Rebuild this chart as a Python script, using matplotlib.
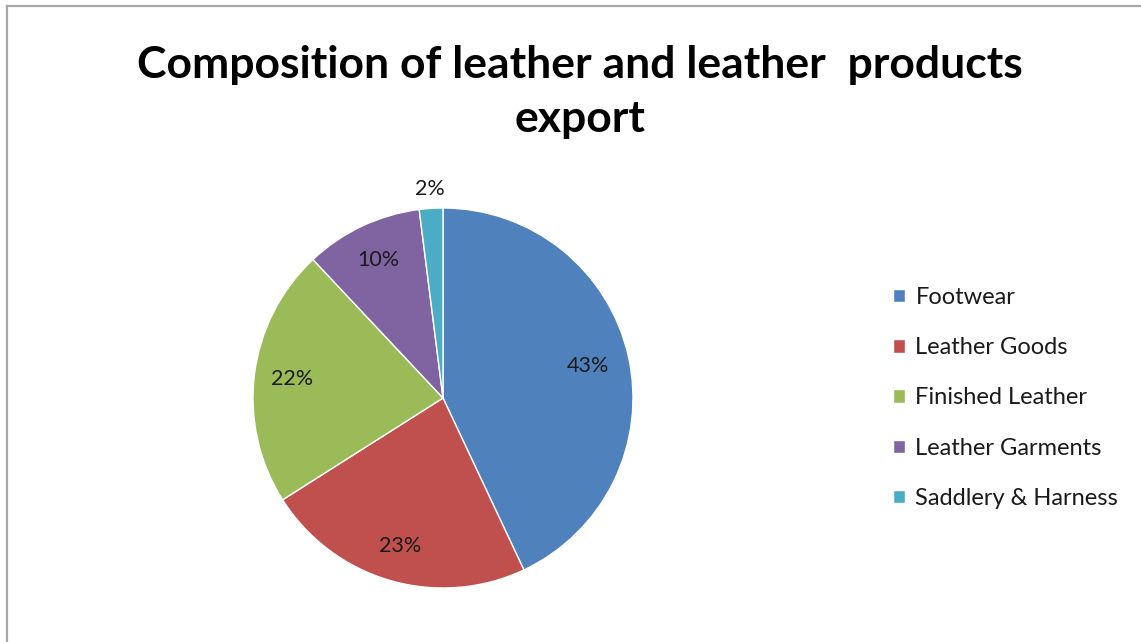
import matplotlib
matplotlib.use("Agg")
import matplotlib.pyplot as plt
from matplotlib.lines import Line2D
import numpy as np

categories = ["Footwear", "Leather Goods", "Finished Leather", "Leather Garments", "Saddlery & Harness"]
values = [43, 23, 22, 10, 2]
title = "Composition of leather and leather  products\nexport"

colors = ["#4F81BD", "#C0504D", "#9BBB59", "#8064A2", "#4BACC6"]
label_radius = [0.78, 0.81, 0.80, 0.80, 1.10]

W, H = 1141, 642
fig = plt.figure(figsize=(W / 100, H / 100), dpi=100)
fig.patch.set_facecolor("white")

# border (only left and top visible)
fig.add_artist(Line2D([7 / W, 7 / W], [0, 1 - 6 / H], transform=fig.transFigure, color="#a8a8a8", lw=1.6))
fig.add_artist(Line2D([7 / W, 1], [1 - 6 / H, 1 - 6 / H], transform=fig.transFigure, color="#a8a8a8", lw=1.6))

cx, cy, r = 443, 398, 190
ax = fig.add_axes([(cx - r) / W, (H - cy - r) / H, 2 * r / W, 2 * r / H])
wedges, _ = ax.pie(values, colors=colors, startangle=90, counterclock=False,
                   radius=1.0, wedgeprops=dict(edgecolor="white", linewidth=1.0))
ax.set_xlim(-1, 1)
ax.set_ylim(-1, 1)
ax.set_aspect("equal")
ax.axis("off")

total = sum(values)
for w, v, lr in zip(wedges, values, label_radius):
    ang = np.deg2rad((w.theta1 + w.theta2) / 2)
    ax.text(lr * np.cos(ang), lr * np.sin(ang), f"{v / total * 100:.0f}%",
            ha="center", va="center", fontsize=15.5, family="Lato", color="#1a1a1a",
            clip_on=False)

fig.text(580 / W, 1 - 92 / H, title, ha="center", va="center", fontsize=32,
         family="Lato", fontweight="bold", linespacing=1.45, color="black")

fig.legend(wedges, categories, loc="center left",
           bbox_to_anchor=(893 / W, 1 - 398 / H), frameon=False,
           prop=dict(family="Lato", size=17), handlelength=0.5, handleheight=0.5,
           handletextpad=0.45, labelspacing=1.24, borderaxespad=0, borderpad=0,
           labelcolor="#1a1a1a")

fig.savefig("out.png", dpi=100)
